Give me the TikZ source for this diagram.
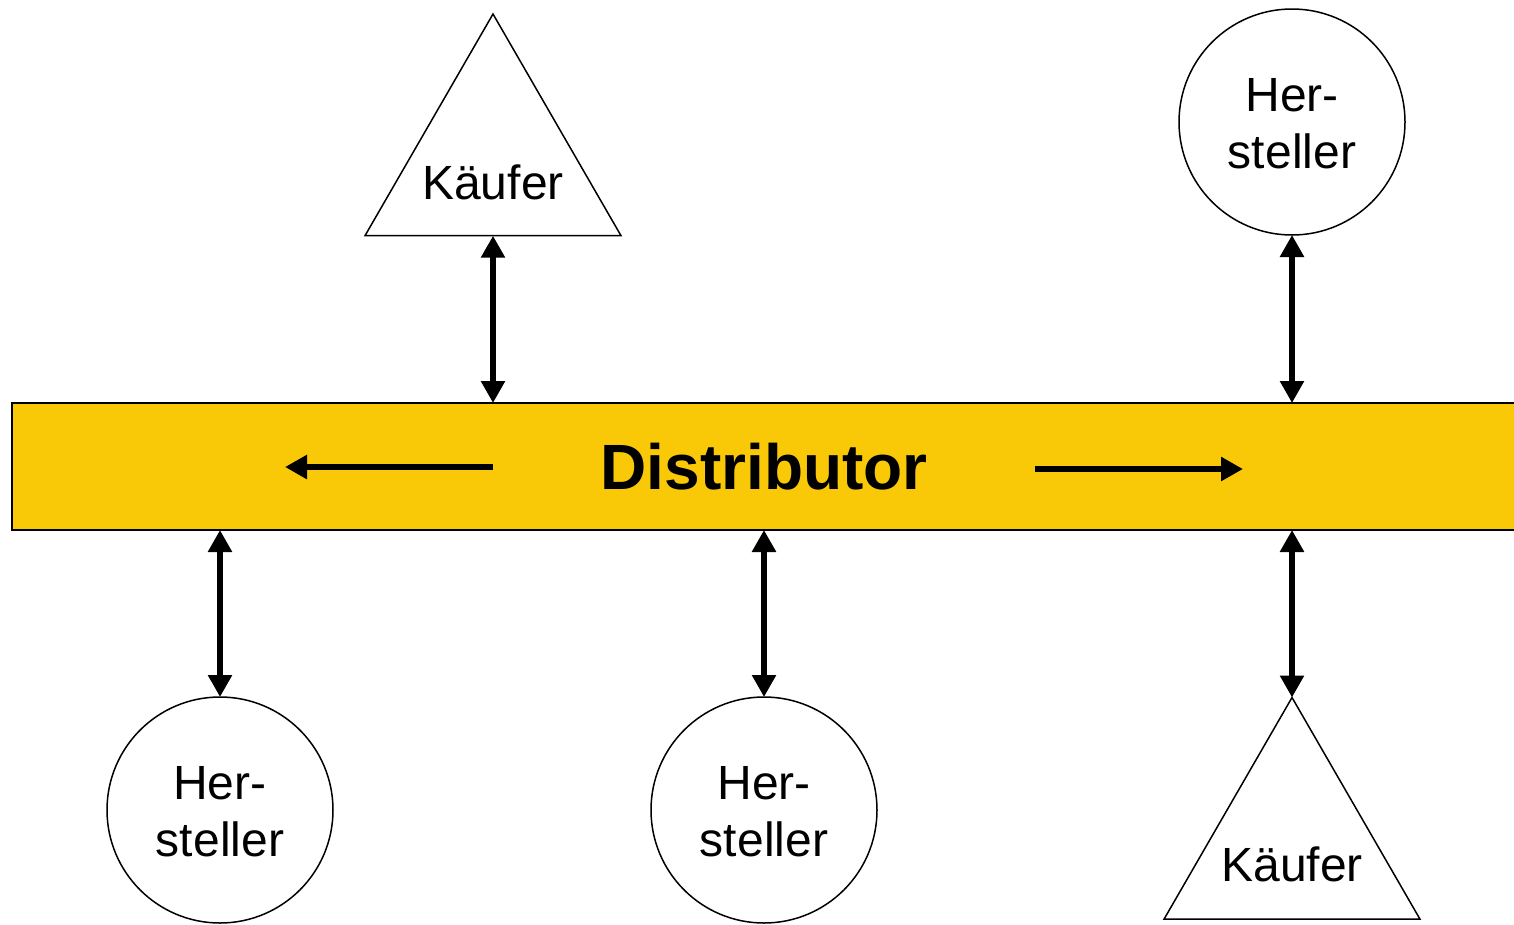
\documentclass[tikz,border=0pt]{standalone}
\usepackage{fontspec}
\setmainfont{Liberation Sans}
\usetikzlibrary{shapes.geometric,arrows.meta}
\definecolor{baryellow}{HTML}{F9C806}
\tikzset{
  party/.style={circle,draw,line width=1.5pt,minimum size=226pt,inner sep=0pt,outer sep=0pt},
  buyer/.style={regular polygon,regular polygon sides=3,draw,line width=1.5pt,
    minimum size=295.6pt,inner sep=0pt,outer sep=0pt},
  lbl/.style={font=\fontsize{48}{57}\selectfont,inner sep=0pt,align=center},
  dbl/.style={line width=6.5pt,{Triangle[length=22pt,width=23pt]}-{Triangle[length=22pt,width=23pt]}},
  flow/.style={line width=6.5pt,-{Triangle[length=22pt,width=23pt]}},
}
\begin{document}
\begin{tikzpicture}[x=1pt,y=-1pt]
\useasboundingbox (0,0) rectangle (1514,924);
\clip (0,0) rectangle (1514,924);
% central distributor bar
\node[draw,fill=baryellow,line width=1.5pt,minimum width=1520pt,minimum height=127pt,
  anchor=north west,inner sep=0pt,outer sep=0pt] (bar) at (12,403) {};
\node[font=\bfseries\fontsize{64}{70}\selectfont,inner sep=0pt] (dist) at (764,467) {Distributor};
\coordinate (lstart) at (493,467);
\coordinate (lend) at (285,467);
\coordinate (rstart) at (1035,469);
\coordinate (rend) at (1243,469);
\draw[flow] (lstart) -- (lend);
\draw[flow] (rstart) -- (rend);
% buyers (triangles)
\node[buyer] (k1) at (493,161.8) {};
\node[lbl] at (493,182) {Käufer};
\node[buyer] (k2) at (1292,845.3) {};
\node[lbl] at (1292,864) {Käufer};
% manufacturers (circles)
\node[party] (h1) at (1292,122) {};
\node[lbl] at (1292,124) {Her-\\steller};
\node[party] (h2) at (220,810) {};
\node[lbl] at (220,812) {Her-\\steller};
\node[party] (h3) at (764,810) {};
\node[lbl] at (764,812) {Her-\\steller};
% links to the bar
\draw[dbl] (k1.south) -- (k1.south |- bar.north);
\draw[dbl] (h1.south) -- (h1.south |- bar.north);
\draw[dbl] (h2.north) -- (h2.north |- bar.south);
\draw[dbl] (h3.north) -- (h3.north |- bar.south);
\draw[dbl] (k2.north) -- (k2.north |- bar.south);
\end{tikzpicture}
\end{document}
